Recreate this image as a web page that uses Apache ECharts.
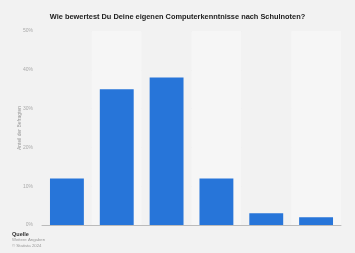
<!DOCTYPE html>
<html>
<head>
<meta charset="utf-8">
<script src="https://cdn.jsdelivr.net/npm/echarts@6/dist/echarts.min.js"></script>
<style>
html, body { margin: 0; padding: 0; background: #f2f2f2; }
#chart { width: 355px; height: 253px; }
</style>
</head>
<body>
<div id="chart"></div>
<script>
var noten = ['1', '2', '3', '4', '5', '6'];
var anteile = [12, 35, 38, 12, 3, 2];
var yTicks = [0, 10, 20, 30, 40, 50];

var myChart = echarts.init(document.getElementById('chart'));
var option = {
    backgroundColor: '#f2f2f2',
    animation: false,
    title: {
        text: 'Wie bewertest Du Deine eigenen Computerkenntnisse nach Schulnoten?',
        left: 'center',
        top: 8,
        textStyle: { fontSize: 7.4, fontWeight: 'bold', color: '#222', fontFamily: 'Arial, Liberation Sans' }
    },
    graphic: [
        { type: 'text', left: 12, top: 231, style: { text: 'Quelle', fontSize: 5.5, fontWeight: 'bold', fill: '#333', fontFamily: 'Liberation Sans' } },
        { type: 'text', left: 12, top: 238, style: { text: 'Weitere Angaben', fontSize: 4.3, fill: '#999', fontFamily: 'Liberation Sans' } },
        { type: 'text', left: 12, top: 244, style: { text: '© Statista 2024', fontSize: 4.3, fill: '#999', fontFamily: 'Liberation Sans' } }
    ],
    grid: { left: 42, right: 14, top: 31, bottom: 28 },
    xAxis: {
        type: 'category',
        data: noten,
        axisLine: { lineStyle: { color: '#bbb', width: 1 } },
        axisTick: { show: false },
        axisLabel: { show: false },
        splitArea: { show: true, areaStyle: { color: ['#f2f2f2', '#f6f6f6'] } }
    },
    yAxis: {
        type: 'value',
        min: 0,
        max: 50,
        interval: 10,
        name: 'Anteil der Befragten',
        nameLocation: 'middle',
        nameGap: 20,
        nameMoveOverlap: false,
        nameTextStyle: { fontSize: 5, color: '#999', fontFamily: 'Liberation Sans' },
        axisLabel: {
            fontSize: 5, color: '#aaa', margin: 9, fontFamily: 'Liberation Sans',
            formatter: function (v) { return yTicks.indexOf(v) >= 0 ? v + '%' : ''; }
        },
        splitLine: { lineStyle: { color: '#e8e8e8', width: 1 } }
    },
    series: [{
        type: 'bar',
        data: anteile,
        barCategoryGap: '32%',
        itemStyle: { color: '#2775d9' }
    }]
};
myChart.setOption(option);
</script>
</body>
</html>
